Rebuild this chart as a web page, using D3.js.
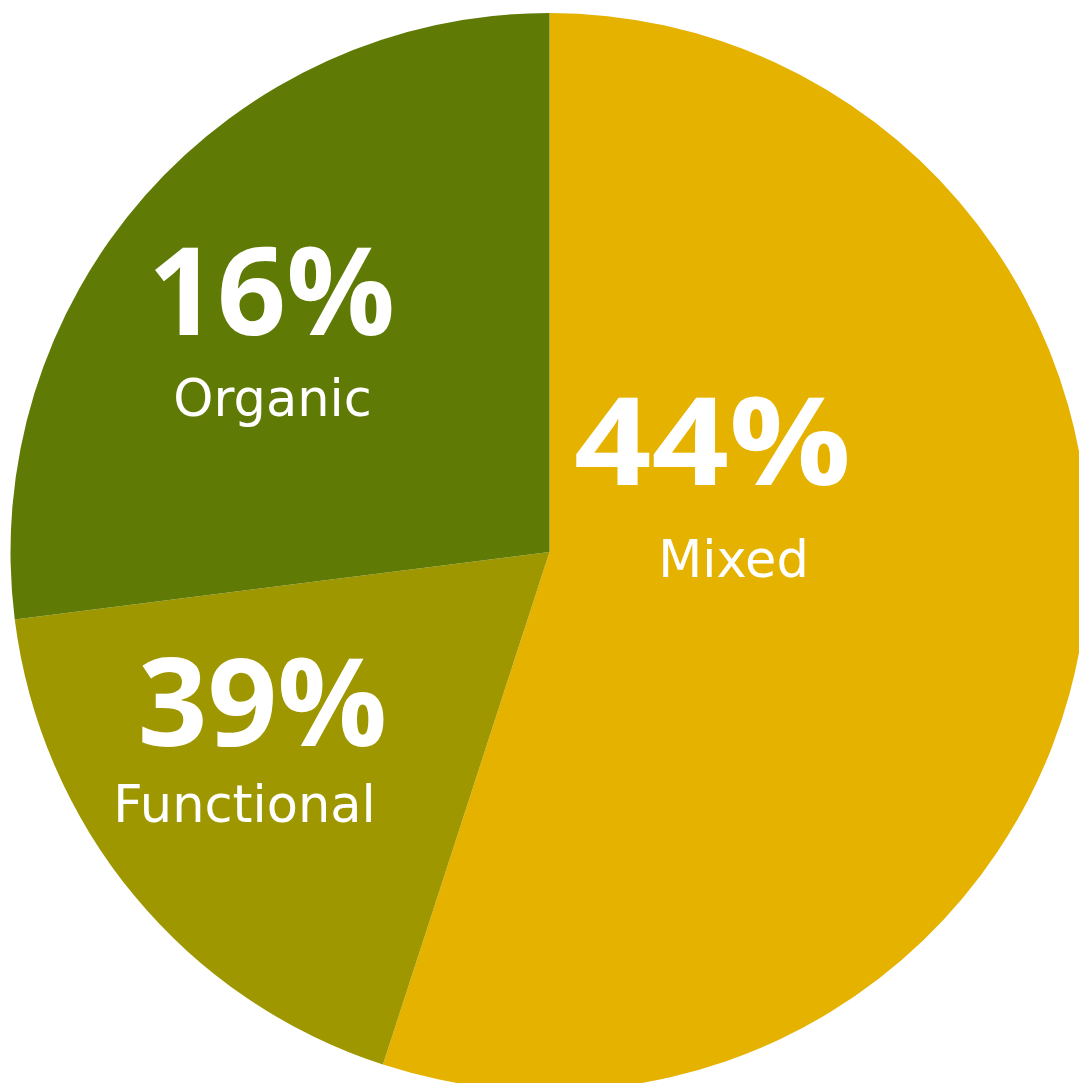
<!DOCTYPE html>
<html>
<head>
<meta charset="utf-8">
<script src="https://cdn.jsdelivr.net/npm/d3@7"></script>
<style>
  html, body { margin: 0; padding: 0; background: #ffffff; overflow: hidden; }
  svg { display: block; }
</style>
</head>
<body>
<div id="chart"></div>
<script>
// ---- data ----
const categories = ["Mixed", "Functional", "Organic"];
const sliceValues = [55, 18, 27];           // slice sizes as drawn
const percentLabels = ["44%", "39%", "16%"]; // printed labels
const colors = ["#E5B200", "#9E9700", "#607A06"];

// ---- layout (not data) ----
const W = 1079, H = 1083;
const cx = 549.5, cy = 552, R = 539;
// label anchor offsets relative to pie centre: [pctX, pctY, nameX, nameY, pctStretch]
const labelLayout = [
  [163, -67, 184, 25, 1.11],
  [-287, 194, -305, 270, 1.0],
  [-278, -217, -277, -136, 0.99]
];

const svg = d3.select("#chart").append("svg")
  .attr("width", W).attr("height", H);

const g = svg.append("g").attr("transform", `translate(${cx},${cy})`);

const pie = d3.pie().sort(null).value(d => d.value);
const arc = d3.arc().innerRadius(0).outerRadius(R);

const data = categories.map((c, i) => ({ name: c, value: sliceValues[i], label: percentLabels[i], color: colors[i] }));
const arcs = pie(data);

g.selectAll("path.slice").data(arcs).enter().append("path")
  .attr("class", "slice")
  .attr("d", arc)
  .attr("fill", d => d.data.color);

const labels = g.selectAll("g.lbl").data(arcs).enter().append("g").attr("class", "lbl");

labels.append("text")
  .attr("transform", (d, i) => `translate(${labelLayout[i][0]},${labelLayout[i][1]}) scale(${labelLayout[i][4]},1)`)
  .attr("text-anchor", "middle")
  .attr("fill", "#ffffff")
  .style("font-family", "'Open Sans', sans-serif")
  .style("font-weight", 700)
  .style("font-size", "122px")
  .text(d => d.data.label);

labels.append("text")
  .attr("x", (d, i) => labelLayout[i][2])
  .attr("y", (d, i) => labelLayout[i][3])
  .attr("text-anchor", "middle")
  .attr("fill", "#ffffff")
  .style("font-family", "'DejaVu Sans', sans-serif")
  .style("font-weight", 400)
  .style("font-size", "51px")
  .text(d => d.data.name);
</script>
</body>
</html>
